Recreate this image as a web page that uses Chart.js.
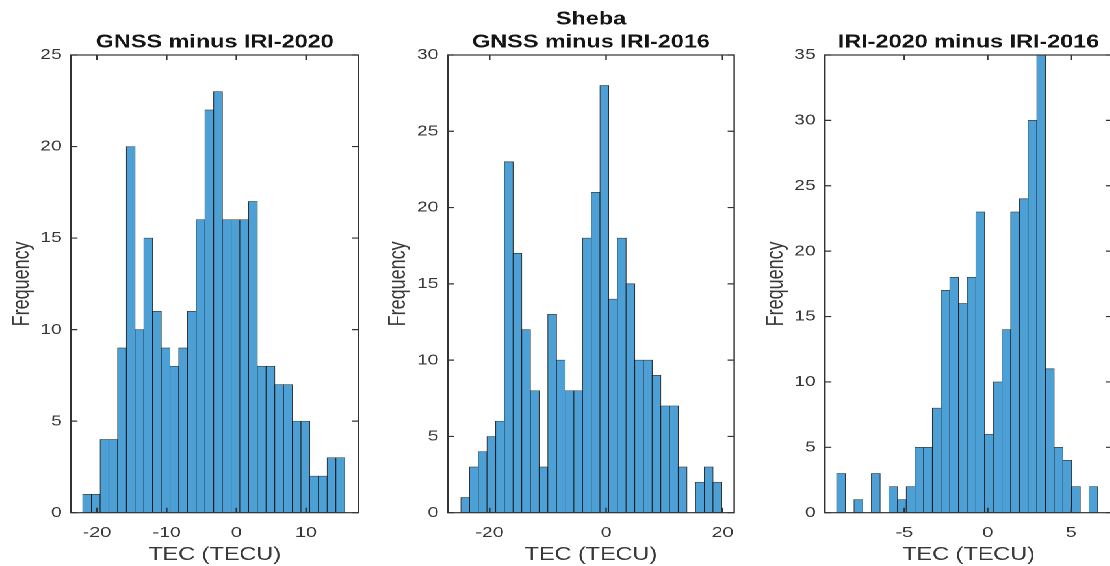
<!DOCTYPE html>
<html><head><meta charset="utf-8">
<script src="https://cdn.jsdelivr.net/npm/chart.js@4.4.1/dist/chart.umd.min.js"></script>
<style>
html,body{margin:0;padding:0;background:#fff;overflow:hidden;width:1110px;height:566px;}
#wrap{position:absolute;left:0;top:0;width:858px;height:566px;transform:scaleX(1.3);transform-origin:0 0;}
#wrap canvas{position:absolute;left:0;top:0;}
</style></head><body>
<div id="wrap">
<canvas id="c1" width="858" height="566"></canvas>
<canvas id="c2" width="858" height="566"></canvas>
<canvas id="c3" width="858" height="566"></canvas>
</div>
<script>
// ---- Data ----
const supTitle = 'Sheba';
const panelTitles = ['GNSS minus IRI-2020', 'GNSS minus IRI-2016', 'IRI-2020 minus IRI-2016'];
const xLabel = 'TEC (TECU)';
const yLabel = 'Frequency';

// histogram bin edges (first edge, bin width), 30 bins each
const binStart2020 = -22.05, binWidth2020 = 1.253;
const binStart2016 = -24.94, binWidth2016 = 1.493;
const binStartIRI  = -9.06,  binWidthIRI  = 0.522;

const counts2020 = [1,1,4,4,9,20,10,15,11,9,8,9,11,16,22,23,16,16,16,17,8,8,7,7,5,5,2,2,3,3];
const counts2016 = [1,3,4,5,6,23,17,12,8,3,13,10,8,8,18,21,28,14,18,15,10,10,9,7,7,3,0,2,3,2];
const countsIRI  = [3,0,1,0,3,0,2,1,2,5,5,8,17,18,16,18,23,6,10,14,23,24,30,35,11,5,4,2,0,2];

// axis limits and tick steps
const xLimits = [[-23.73, 17.5], [-27.2, 22.0], [-9.76, 7.47]];
const xSteps = [10, 20, 5];
const yMax = [25, 30, 35];
const ySteps = [5, 5, 5];

// ---- Styling / layout ----
const FONT = "'Liberation Sans', Arial, Helvetica, sans-serif";
const AXIS_COLOR = '#333333';
const TEXT_COLOR = '#383838';
const TITLE_COLOR = '#151515';
const BAR_FILL = '#4da0d5';
const BAR_EDGE = 'rgba(25,25,25,0.9)';
const CANVAS_W = 858;
const plotLeft = [54.6, 344.4, 634.6];
const plotRight = [275.6, 564.8, 855.6];
const plotTop = 55;
const plotBottom = 512.7;
const Y_AXIS_W = 54.6;

const frameTicks = {
  id: 'frameTicks',
  afterDatasetsDraw(chart) {
    const {ctx, chartArea: a, scales: {x, y}} = chart;
    const L = 5;
    ctx.save();
    ctx.strokeStyle = AXIS_COLOR;
    ctx.lineWidth = 1.2;
    ctx.beginPath();
    x.ticks.forEach(t => {
      const px = x.getPixelForValue(t.value);
      ctx.moveTo(px, a.bottom); ctx.lineTo(px, a.bottom - L);
      ctx.moveTo(px, a.top); ctx.lineTo(px, a.top + L);
    });
    y.ticks.forEach(t => {
      const py = y.getPixelForValue(t.value);
      ctx.moveTo(a.left, py); ctx.lineTo(a.left + L, py);
      ctx.moveTo(a.right, py); ctx.lineTo(a.right - L, py);
    });
    ctx.stroke();
    ctx.strokeRect(a.left, a.top, a.right - a.left, a.bottom - a.top);
    ctx.restore();
  }
};

// title centred over the plot area (as in the reference)
const axesTitle = {
  id: 'axesTitle',
  afterDraw(chart, args, opts) {
    const {ctx, chartArea: a} = chart;
    const lines = opts.lines || [];
    const cx = (a.left + a.right) / 2;
    ctx.save();
    ctx.fillStyle = TITLE_COLOR;
    ctx.font = 'bold 18px ' + FONT;
    ctx.textAlign = 'center';
    ctx.textBaseline = 'alphabetic';
    const lastBase = 47.5, step = 22.8;
    lines.forEach((t, i) => {
      ctx.fillText(t, cx, lastBase - (lines.length - 1 - i) * step);
    });
    ctx.restore();
  }
};

function binned(start, width, counts) {
  return counts.map((c, i) => ({x: start + (i + 0.5) * width, y: c}));
}

function makeChart(id, idx, titleLines, data) {
  new Chart(document.getElementById(id), {
    type: 'bar',
    data: {
      datasets: [{
        data: data,
        backgroundColor: BAR_FILL,
        borderColor: BAR_EDGE,
        borderWidth: 0.6,
        borderSkipped: false,
        barPercentage: 1,
        categoryPercentage: 1
      }]
    },
    options: {
      responsive: false,
      devicePixelRatio: 2,
      animation: false,
      events: [],
      layout: {padding: {left: plotLeft[idx] - Y_AXIS_W, right: CANVAS_W - plotRight[idx], top: plotTop, bottom: 0}},
      plugins: {
        legend: {display: false},
        tooltip: {enabled: false},
        title: {display: false},
        axesTitle: {lines: titleLines}
      },
      scales: {
        x: {
          type: 'linear',
          min: xLimits[idx][0], max: xLimits[idx][1],
          offset: false,
          grid: {display: false, drawTicks: false, offset: false},
          border: {display: false},
          ticks: {stepSize: xSteps[idx], includeBounds: false, padding: 11, color: TEXT_COLOR,
                  font: {family: FONT, size: 15}, maxRotation: 0, autoSkip: false},
          title: {display: true, text: xLabel, color: TEXT_COLOR,
                  font: {family: FONT, size: 18}, padding: {top: 0, bottom: 0}},
          afterFit(s) { s.height = 566 - plotBottom; }
        },
        y: {
          min: 0, max: yMax[idx],
          grid: {display: false, drawTicks: false},
          border: {display: false},
          ticks: {stepSize: ySteps[idx], padding: 7, color: TEXT_COLOR,
                  font: {family: FONT, size: 15}, autoSkip: false},
          title: {display: true, text: yLabel, color: TEXT_COLOR,
                  font: {family: FONT, size: 18}, padding: {top: 6, bottom: 0}},
          afterFit(s) { s.width = Y_AXIS_W; }
        }
      }
    },
    plugins: [frameTicks, axesTitle]
  });
}

makeChart('c1', 0, [panelTitles[0]], binned(binStart2020, binWidth2020, counts2020));
makeChart('c2', 1, [supTitle, panelTitles[1]], binned(binStart2016, binWidth2016, counts2016));
makeChart('c3', 2, [panelTitles[2]], binned(binStartIRI, binWidthIRI, countsIRI));
</script>
</body></html>
